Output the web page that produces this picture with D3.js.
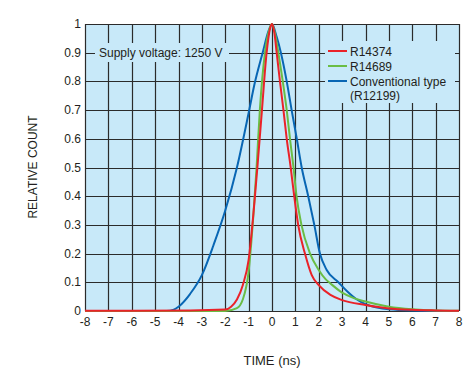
<!DOCTYPE html>
<html>
<head>
<meta charset="utf-8">
<script src="https://cdn.jsdelivr.net/npm/d3@7"></script>
<style>
  body { margin: 0; background: #fff; }
  text { font-family: "Liberation Sans", Arial, sans-serif; fill: #231f20; }
</style>
</head>
<body>
<div id="chart"></div>
<script>
// time (ns) / relative count
var blueX  = [-8, -4.5, -4.2, -4, -3.5, -3, -2.5, -2, -1.5, -1, -0.75, -0.4, -0.15, 0, 0.2, 0.38, 0.63, 0.84, 1.06, 1.27, 1.55, 1.81, 2.05, 2.34, 2.84, 3.2, 3.6, 4, 4.5, 5, 6, 8];
var blueY  = [0, 0, 0.005, 0.015, 0.06, 0.125, 0.23, 0.35, 0.5, 0.69, 0.79, 0.9, 0.975, 1, 0.955, 0.9, 0.8, 0.7, 0.6, 0.5, 0.4, 0.3, 0.2, 0.143, 0.1, 0.07, 0.042, 0.024, 0.012, 0.006, 0.002, 0];

var greenX = [-8, -2, -1.5, -1.25, -1, -0.8, -0.66, -0.52, -0.3, -0.12, 0, 0.12, 0.27, 0.46, 0.63, 0.77, 0.92, 1.05, 1.26, 1.63, 2, 2.3, 2.5, 3, 3.5, 4, 5, 6, 7, 8];
var greenY = [0, 0, 0.01, 0.04, 0.137, 0.33, 0.5, 0.7, 0.9, 0.98, 1, 0.97, 0.9, 0.8, 0.7, 0.6, 0.5, 0.4, 0.3, 0.2, 0.143, 0.11, 0.096, 0.064, 0.045, 0.033, 0.015, 0.006, 0.002, 0.001];

var redX   = [-8, -3.5, -2, -1.75, -1.5, -1.25, -1, -0.75, -0.6, -0.43, -0.23, -0.08, 0, 0.1, 0.2, 0.34, 0.49, 0.63, 0.8, 0.95, 1.12, 1.41, 1.7, 2, 2.5, 3, 4, 5, 6, 7, 8];
var redY   = [0.001, 0.002, 0.005, 0.015, 0.04, 0.09, 0.178, 0.38, 0.526, 0.7, 0.9, 0.985, 1, 0.97, 0.9, 0.8, 0.7, 0.6, 0.5, 0.4, 0.3, 0.2, 0.125, 0.09, 0.056, 0.038, 0.021, 0.009, 0.004, 0.002, 0.001];

var seriesNames = ["R14374", "R14689", "Conventional type", "(R12199)"];
var xTicks = [-8, -7, -6, -5, -4, -3, -2, -1, 0, 1, 2, 3, 4, 5, 6, 7, 8];
var yTicks = [0, 0.1, 0.2, 0.3, 0.4, 0.5, 0.6, 0.7, 0.8, 0.9, 1];
var yTickLabels = ["0", "0.1", "0.2", "0.3", "0.4", "0.5", "0.6", "0.7", "0.8", "0.9", "1"];

var width = 473, height = 372;
var margin = {top: 24, right: 14, bottom: 61, left: 85};

var svg = d3.select("#chart").append("svg")
  .attr("width", width)
  .attr("height", height);

var x = d3.scaleLinear().domain([-8, 8]).range([margin.left, width - margin.right]);
var y = d3.scaleLinear().domain([0, 1]).range([height - margin.bottom, margin.top]);

// background
svg.append("rect")
  .attr("x", x(-8)).attr("y", y(1))
  .attr("width", x(8) - x(-8)).attr("height", y(0) - y(1))
  .attr("fill", "#c8e9f9");

// grid
var grid = svg.append("g").attr("stroke", "#2b2b2b").attr("stroke-width", 1.2);
grid.selectAll(".vx").data(xTicks).enter().append("line")
  .attr("x1", d => Math.round(x(d)) + 0.5).attr("x2", d => Math.round(x(d)) + 0.5)
  .attr("y1", y(1)).attr("y2", y(0));
grid.selectAll(".hy").data(yTicks).enter().append("line")
  .attr("y1", d => Math.round(y(d)) + 0.5).attr("y2", d => Math.round(y(d)) + 0.5)
  .attr("x1", x(-8)).attr("x2", x(8));

// tick labels
svg.selectAll(".xl").data(xTicks).enter().append("text")
  .attr("x", d => x(d)).attr("y", y(0) + 15)
  .attr("text-anchor", "middle").attr("font-size", 12)
  .text(d => d);
svg.selectAll(".yl").data(yTicks).enter().append("text")
  .attr("x", x(-8) - 4).attr("y", d => y(d) + 4)
  .attr("text-anchor", "end").attr("font-size", 12)
  .text((d, i) => yTickLabels[i]);

// axis titles
svg.append("text")
  .attr("transform", "translate(37,167) rotate(-90)")
  .attr("text-anchor", "middle").attr("font-size", 12)
  .text("RELATIVE COUNT");
svg.append("text")
  .attr("x", x(0)).attr("y", 365)
  .attr("text-anchor", "middle").attr("font-size", 13)
  .text("TIME (ns)");

// curves
var line = d3.line()
  .x(d => x(d[0]))
  .y(d => y(d[1]))
  .curve(d3.curveMonotoneX);

var curves = [
  {xs: blueX, ys: blueY, color: "#0866b4"},
  {xs: greenX, ys: greenY, color: "#6abd45"},
  {xs: redX, ys: redY, color: "#ea2229"}
];
curves.forEach(function(c) {
  svg.append("path")
    .datum(d3.zip(c.xs, c.ys))
    .attr("d", line)
    .attr("fill", "none")
    .attr("stroke", c.color)
    .attr("stroke-width", 2);
});

// supply voltage note
svg.append("rect")
  .attr("x", 95).attr("y", 43).attr("width", 134).attr("height", 19)
  .attr("fill", "#c8e9f9");
svg.append("text")
  .attr("x", 99).attr("y", 56.5).attr("font-size", 12)
  .text("Supply voltage: 1250 V");

// legend
var lg = svg.append("g");
lg.append("rect")
  .attr("x", 325).attr("y", 41).attr("width", 130).attr("height", 62)
  .attr("fill", "#c8e9f9");
var legendColors = ["#ea2229", "#6abd45", "#0866b4", null];
var rowY = [51, 66, 81, 95];
seriesNames.forEach(function(name, i) {
  if (legendColors[i]) {
    lg.append("line")
      .attr("x1", 328).attr("x2", 347)
      .attr("y1", rowY[i]).attr("y2", rowY[i])
      .attr("stroke", legendColors[i]).attr("stroke-width", 2);
  }
  lg.append("text")
    .attr("x", 350).attr("y", rowY[i] + 4.5).attr("font-size", 12)
    .text(name);
});
</script>
</body>
</html>
